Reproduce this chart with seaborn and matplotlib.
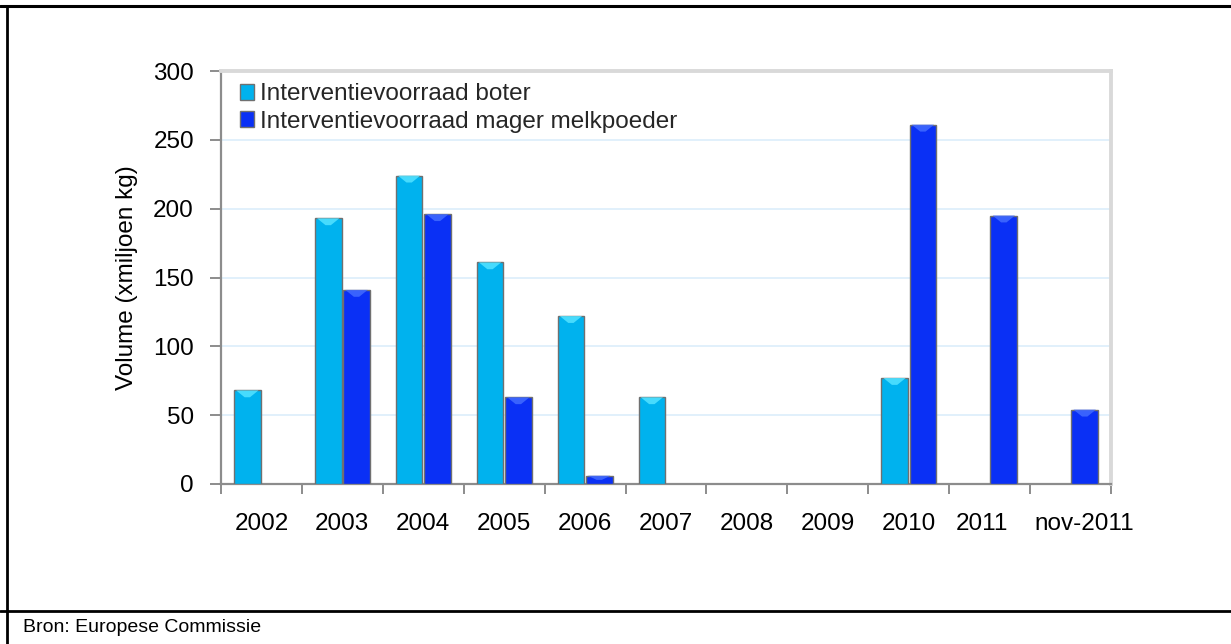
import numpy as np
import pandas as pd
import matplotlib
matplotlib.use("Agg")
import matplotlib.pyplot as plt
from matplotlib.lines import Line2D
from matplotlib.patches import Polygon
from matplotlib.transforms import ScaledTranslation
import seaborn as sns

categories = ["2002", "2003", "2004", "2005", "2006", "2007", "2008", "2009", "2010", "2011", "nov-2011"]
boter = [68, 193, 224, 161, 122, 63, np.nan, np.nan, 77, np.nan, np.nan]
melkpoeder = [np.nan, 141, 196, 63, 6, np.nan, np.nan, np.nan, 261, 195, 54]
series_names = ["Interventievoorraad boter", "Interventievoorraad mager melkpoeder"]
y_label = "Volume (xmiljoen kg)"
source = "Bron: Europese Commissie"

df = pd.DataFrame({
    "cat": categories * 2,
    "val": boter + melkpoeder,
    "serie": [series_names[0]] * len(categories) + [series_names[1]] * len(categories),
})

sns.set_theme(style="white")
plt.rcParams["font.family"] = ["Liberation Sans", "DejaVu Sans"]

fig = plt.figure(figsize=(12.31, 6.44), dpi=100)
ax = fig.add_axes([221 / 1231, 1 - 484 / 644, 890 / 1231, 413 / 644])

palette = {series_names[0]: "#00B2EE", series_names[1]: "#0A30F5"}
cap_colors = {series_names[0]: "#4FE0FF", series_names[1]: "#3F68FF"}
sns.barplot(data=df, x="cat", y="val", hue="serie", order=categories,
            hue_order=series_names, palette=palette, width=0.7, gap=0.06,
            edgecolor="#707070", linewidth=1.0, saturation=1, ax=ax, zorder=3)

ax.set_xlim(-0.5, len(categories) - 0.5)
ax.set_ylim(0, 300)

# light bevel cap on top of each drawn bar (derived from the bar geometry)
for cont, name in zip(ax.containers, series_names):
    for p in cont.patches:
        h = p.get_height()
        if not np.isfinite(h) or h <= 0:
            continue
        x0, w = p.get_x(), p.get_width()
        capd = min(5.0, h * 0.5)
        poly = Polygon([(x0 + w * 0.08, h), (x0 + w * 0.92, h),
                        (x0 + w * 0.6, h - capd), (x0 + w * 0.4, h - capd)],
                       closed=True, facecolor=cap_colors[name], edgecolor="none",
                       alpha=0.9, zorder=4)
        ax.add_patch(poly)

ax.set_yticks(np.arange(0, 301, 50))
ax.yaxis.grid(True, color="#DCEEFB", lw=1.2, zorder=0)
ax.xaxis.grid(False)
ax.set_axisbelow(True)

for s in ["left", "bottom"]:
    ax.spines[s].set_color("#8C8C8C")
    ax.spines[s].set_linewidth(1.6)
for s in ["top", "right"]:
    ax.spines[s].set_color("#D9D9D9")
    ax.spines[s].set_linewidth(2.8)

ax.set_xticks(range(len(categories)))
ax.set_xticklabels(categories)
ax.set_xticks(np.arange(-0.5, len(categories), 1.0), minor=True)
ax.tick_params(axis="x", which="major", length=0, pad=21, labelsize=17.5, labelcolor="black")
ax.tick_params(axis="x", which="minor", length=7, width=1.4, color="#8C8C8C", direction="out", bottom=True)
ax.tick_params(axis="y", which="major", length=8, width=1.4, color="#8C8C8C", direction="out",
               left=True, pad=11.5, labelsize=17.5, labelcolor="black")

# the last two labels are nudged apart, as in the original
labels = ax.get_xticklabels()
for lbl, dx in [(labels[-2], -8), (labels[-1], 14)]:
    lbl.set_transform(lbl.get_transform() + ScaledTranslation(dx / 100, 0, fig.dpi_scale_trans))

ax.set_xlabel("")
ax.set_ylabel(y_label, fontsize=17.5, color="black")
ax.yaxis.set_label_coords(-0.093, 0.5)

leg = ax.legend(loc="upper left", bbox_to_anchor=(0.021, 0.97), frameon=False,
                fontsize=17.5, handlelength=0.6, handleheight=0.6, handletextpad=0.25,
                labelspacing=0.22, borderpad=0, borderaxespad=0)

# figure frame lines
fig.add_artist(Line2D([0, 1], [1 - 5.5 / 644, 1 - 5.5 / 644], color="black", lw=2.2))
fig.add_artist(Line2D([7 / 1231, 7 / 1231], [0, 1 - 5.5 / 644], color="black", lw=2.0))
fig.add_artist(Line2D([0, 1], [1 - 611 / 644, 1 - 611 / 644], color="black", lw=2.0))
fig.text(22.7 / 1231, 1 - 628 / 644, source, fontsize=14, va="center", ha="left", color="black")

fig.savefig("out.png", dpi=100)
